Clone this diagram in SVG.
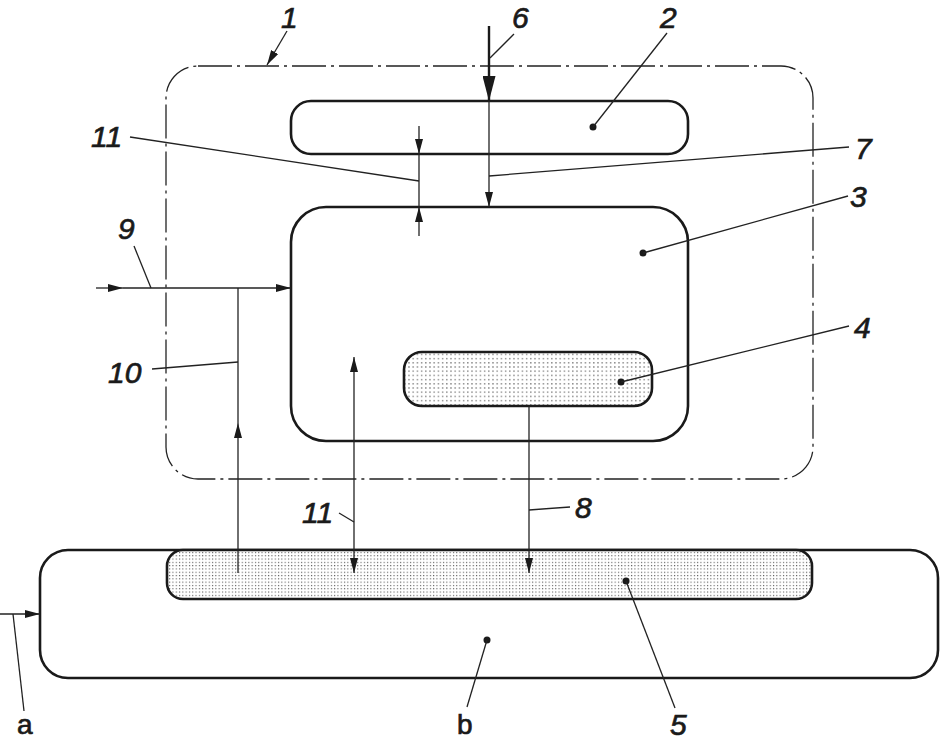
<svg xmlns="http://www.w3.org/2000/svg" width="940" height="741" viewBox="0 0 940 741">
<style>
.box{fill:none;stroke:#1a1a1a;stroke-width:2.6}
.dd{fill:none;stroke:#222;stroke-width:1.3;stroke-dasharray:34 5 3 5}
.ln{fill:none;stroke:#222;stroke-width:1.3}
.dot{fill:#1a1a1a}
.num{font-family:"Liberation Sans",Arial,sans-serif;font-style:italic;font-size:30px;fill:#1a1a1a;stroke:#1a1a1a;stroke-width:0.7}
.let{font-family:"Liberation Sans",Arial,sans-serif;font-size:28px;fill:#1a1a1a;stroke:#1a1a1a;stroke-width:0.7}
</style>
<defs>
<marker id="arr" markerUnits="userSpaceOnUse" markerWidth="15" markerHeight="8" refX="15" refY="4" orient="auto-start-reverse">
<path d="M0,0 L15,4 L0,8 z" fill="#1a1a1a"/>
</marker>
<marker id="arrBig" markerUnits="userSpaceOnUse" markerWidth="25" markerHeight="13" refX="25" refY="6.5" orient="auto">
<path d="M0,0 L25,6.5 L0,13 z" fill="#1a1a1a"/>
</marker>
<pattern id="dots4" patternUnits="userSpaceOnUse" width="4.2" height="4.2">
<rect width="4.2" height="4.2" fill="#fff"/>
<rect x="1" y="1" width="1.2" height="1.2" fill="#555"/>
</pattern>
<pattern id="dots5" patternUnits="userSpaceOnUse" width="3.3" height="3.3">
<rect width="3.3" height="3.3" fill="#fff"/>
<rect x="0.8" y="0.8" width="1.1" height="1.1" fill="#555"/>
</pattern>
</defs>
<rect width="940" height="741" fill="#fff"/>

<g id="node1">
<rect class="dd" x="166" y="66" width="647" height="413" rx="32"/>
<text class="num" x="281" y="28">1</text>
</g>

<g id="node2">
<rect class="box" x="291" y="101" width="397" height="53" rx="20"/>
<circle class="dot" cx="593" cy="127" r="3.5"/>
<text class="num" x="660" y="28">2</text>
</g>

<g id="node3">
<rect class="box" x="291" y="207" width="397" height="234" rx="35"/>
<circle class="dot" cx="643" cy="253" r="3.5"/>
<text class="num" x="850" y="207">3</text>
</g>

<g id="node4">
<rect class="box" x="404" y="352" width="248" height="54" rx="18" style="fill:url(#dots4)"/>
<circle class="dot" cx="621" cy="382" r="3.5"/>
<text class="num" x="854" y="338">4</text>
</g>

<g id="nodeB">
<rect class="box" x="40" y="550" width="898" height="128" rx="28"/>
<circle class="dot" cx="487" cy="640" r="3.5"/>
<text class="let" x="457" y="734">b</text>
</g>

<g id="node5">
<rect class="box" x="167" y="550" width="645" height="49" rx="16" style="fill:url(#dots5)"/>
<circle class="dot" cx="626" cy="581" r="3.5"/>
<text class="num" x="670" y="735">5</text>
</g>

<g id="labels">
<text class="num" x="512" y="28">6</text>
<text class="num" x="855" y="159">7</text>
<text class="num" x="91" y="147">11</text>
<text class="num" x="118" y="239">9</text>
<text class="num" x="108" y="383">10</text>
<text class="num" x="302" y="523">11</text>
<text class="num" x="575" y="518">8</text>
<text class="let" x="17" y="734">a</text>
</g>

<g id="connectors">
<line x1="489" y1="26" x2="489" y2="101" stroke="#1a1a1a" stroke-width="2.4" marker-end="url(#arrBig)"/>
<line class="ln" x1="489" y1="101" x2="489" y2="207" marker-end="url(#arr)"/>
<line class="ln" x1="419" y1="126" x2="419" y2="154" marker-end="url(#arr)"/>
<line class="ln" x1="419" y1="154" x2="419" y2="207"/>
<line class="ln" x1="419" y1="236" x2="419" y2="207" marker-end="url(#arr)"/>
<line class="ln" x1="96" y1="288" x2="123" y2="288" marker-end="url(#arr)"/>
<line class="ln" x1="123" y1="288" x2="291" y2="288" marker-end="url(#arr)"/>
<line class="ln" x1="238" y1="573" x2="238" y2="423" marker-end="url(#arr)"/>
<line class="ln" x1="238" y1="423" x2="238" y2="288"/>
<line class="ln" x1="354" y1="357" x2="354" y2="573" marker-start="url(#arr)" marker-end="url(#arr)"/>
<line class="ln" x1="529" y1="406" x2="529" y2="573" marker-end="url(#arr)"/>
<line class="ln" x1="0" y1="614" x2="40" y2="614" marker-end="url(#arr)"/>
<line class="ln" x1="287" y1="31" x2="267" y2="65" marker-end="url(#arr)"/>
<line class="ln" x1="490" y1="58" x2="514" y2="34"/>
<line class="ln" x1="593" y1="127" x2="667" y2="33"/>
<line class="ln" x1="130" y1="137" x2="419" y2="181"/>
<line class="ln" x1="489" y1="176" x2="849" y2="147"/>
<line class="ln" x1="643" y1="253" x2="848" y2="196"/>
<line class="ln" x1="134" y1="246" x2="151" y2="288"/>
<line class="ln" x1="621" y1="382" x2="849" y2="326"/>
<line class="ln" x1="152" y1="369" x2="238" y2="362"/>
<line class="ln" x1="339" y1="513" x2="354" y2="522"/>
<line class="ln" x1="529" y1="510" x2="570" y2="507"/>
<line class="ln" x1="626" y1="581" x2="675" y2="708"/>
<line class="ln" x1="487" y1="640" x2="467" y2="707"/>
<line class="ln" x1="13" y1="614" x2="24" y2="711"/>
</g>
</svg>
